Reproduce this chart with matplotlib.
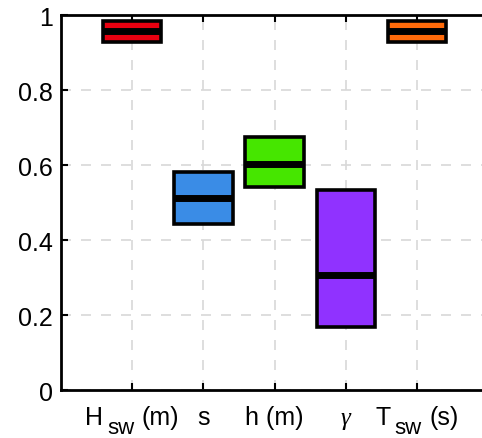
import matplotlib.pyplot as plt
import matplotlib.transforms as mtransforms
import numpy as np

plt.rcParams["font.family"] = ["Liberation Sans", "DejaVu Sans"]
plt.rcParams["mathtext.fontset"] = "custom"
plt.rcParams["mathtext.rm"] = "Liberation Sans"
plt.rcParams["mathtext.it"] = "Liberation Serif:italic"

# each x label as (text, subscript) pieces, the subscript drawn lowered
label_parts = [
    [("H", False), ("sw", True), ("(m)", False)],
    [("s", False)],
    [("h (m)", False)],
    [("$\\gamma$", False)],
    [("T", False), ("sw", True), ("(s)", False)],
]
box_low = [0.928, 0.443, 0.541, 0.168, 0.928]
box_high = [0.984, 0.581, 0.675, 0.533, 0.984]
medians = [0.957, 0.512, 0.603, 0.307, 0.957]
colors = ["#e80010", "#3a8ce6", "#46e600", "#9032ff", "#ff6a0a"]

x = np.arange(1, len(label_parts) + 1)
width = 0.82

fig = plt.figure(figsize=(4.82, 4.39), dpi=100)
ax = fig.add_axes([0.1266, 0.1093, 0.886, 0.8542])

ax.bar(x, np.array(box_high) - np.array(box_low), bottom=box_low, width=width,
       color=colors, edgecolor="black", linewidth=2.6, zorder=3)
ax.hlines(medians, x - width / 2, x + width / 2, colors="black", lw=5, zorder=4)

ax.set_xlim(0, 6)
ax.set_ylim(0, 1)
ax.set_xticks(x)
ax.set_xticklabels([])
ax.set_yticks([0, 0.2, 0.4, 0.6, 0.8, 1])
ax.set_yticklabels(["0", "0.2", "0.4", "0.6", "0.8", "1"])
ax.tick_params(direction="in", length=5, width=1.5, labelsize=18, top=True, pad=6)
ax.grid(ls=(0, (6, 6)), color="#d8d8d8", lw=1.2, zorder=0)
for s in ax.spines.values():
    s.set_linewidth(2)

# x labels: lay pieces side by side, centred under each tick
renderer = fig.canvas.get_renderer()
base_y = -0.09
for xi, parts in zip(x, label_parts):
    texts = []
    for txt, is_sub in parts:
        t = ax.text(xi, base_y, txt, fontsize=16 if is_sub else 18, va="baseline",
                    ha="left", transform=ax.get_xaxis_transform(), clip_on=False)
        texts.append((t, is_sub))
    widths = [t.get_window_extent(renderer).width for t, _ in texts]
    gaps = [4 if sub else 7 for _, sub in texts[1:]]
    total = sum(widths) + sum(gaps)
    dx = -total / 2
    for i, ((t, is_sub), w) in enumerate(zip(texts, widths)):
        t.set_transform(mtransforms.offset_copy(ax.get_xaxis_transform(), fig,
                                                x=dx, y=-9 if is_sub else 0, units="dots"))
        dx += w + (gaps[i] if i < len(gaps) else 0)

plt.savefig("out.png", dpi=100, transparent=False)
